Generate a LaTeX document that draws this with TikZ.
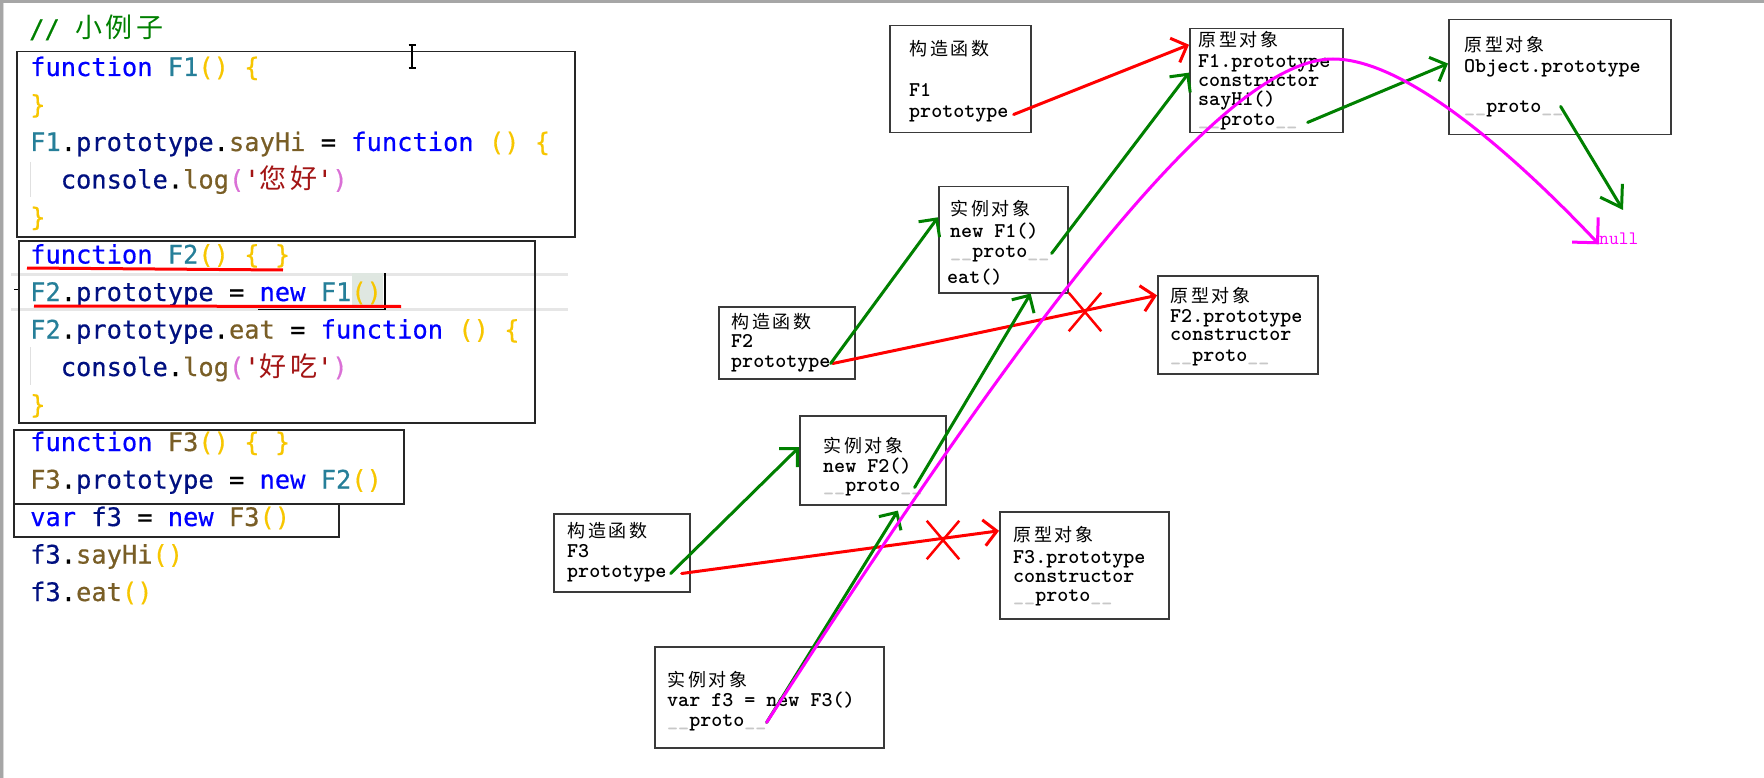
\documentclass[tikz,border=0pt]{standalone}
\usepackage{fontspec}
\usetikzlibrary{arrows.meta,shapes.misc}
\newfontfamily\codefont{DejaVu Sans Mono}[FakeBold=0.5]
\newfontfamily\cjkcode[LetterSpace=13]{Noto Sans CJK SC}
\newfontfamily\cjkbox[LetterSpace=16]{Noto Sans CJK SC}
\definecolor{ckw}{HTML}{0000FF}
\definecolor{ccl}{HTML}{267F99}
\definecolor{cfn}{HTML}{795E26}
\definecolor{cvr}{HTML}{001080}
\definecolor{cba}{HTML}{F7C600}
\definecolor{cbb}{HTML}{DA70D6}
\definecolor{cst}{HTML}{A31515}
\definecolor{ccm}{HTML}{008000}
\definecolor{boxgray}{HTML}{3A3A3A}
\definecolor{ugray}{HTML}{C8C8C8}
\definecolor{dgreen}{HTML}{008000}
\definecolor{hmag}{HTML}{FF00FF}
\definecolor{frame}{HTML}{A6A6A6}
\definecolor{curline}{HTML}{E6E6E6}
\definecolor{matchfill}{HTML}{DFE7E1}
\newcommand\ckwd[1]{\textcolor{ckw}{#1}}
\newcommand\ccls[1]{\textcolor{ccl}{#1}}
\newcommand\cfun[1]{\textcolor{cfn}{#1}}
\newcommand\cvar[1]{\textcolor{cvr}{#1}}
\newcommand\cbra[1]{\textcolor{cba}{#1}}
\newcommand\cbrb[1]{\textcolor{cbb}{#1}}
\newcommand\cstr[1]{\textcolor{cst}{#1}}
\newcommand\cjz[1]{{\cjkcode\fontsize{27}{27}\selectfont #1}}
\newcommand\pproto{\textcolor{ugray}{\_\_}proto\textcolor{ugray}{\_\_}}
\begin{document}
\begin{tikzpicture}[x=1pt,y=-1pt,
  dbox/.style={draw=boxgray, line width=1.5pt, anchor=north west, inner sep=0pt},
  code/.style={anchor=base west, inner sep=0pt, font=\codefont\fontsize{25.4}{25.4}\selectfont},
  bt/.style={anchor=base west, inner sep=0pt, font=\ttfamily\bfseries\fontsize{21}{21}\selectfont},
  ct/.style={anchor=base west, inner sep=0pt, font=\cjkbox\fontsize{18}{18}\selectfont},
  hand/.style={line width=3pt, line cap=round, line join=round},
  harrow/.style={hand, -{Straight Barb[length=13pt,width=26pt]}},
  redarr/.style={harrow, draw=red},
  grnarr/.style={harrow, draw=dgreen},
  xmark/.style={cross out, draw=red, line width=2.5pt, minimum width=30pt, minimum height=36pt, inner sep=0pt},
]
\useasboundingbox (0,0) rectangle (1764,778);
\fill[white] (0,0) rectangle (1764,778);
% window frame
\fill[frame] (0,0) rectangle (1764,3.5);
\fill[frame] (0,0) rectangle (2.5,778);
\fill[black!15] (2.5,3.5) rectangle (3.5,778);

% editor artifacts
\draw[curline, line width=3pt] (11,274) -- (568,274);
\draw[curline, line width=3pt] (11,309) -- (568,309);
\fill[matchfill] (352,273) rectangle (383,309);
\draw[black!12, line width=1pt] (30,162) -- (30,197);
\draw[black!12, line width=1pt] (30,347) -- (30,385);

% code blocks
\node[dbox, draw=black!85, minimum width=558pt, minimum height=185pt] (blk1) at (16,51) {};
\node[dbox, draw=black!85, minimum width=516pt, minimum height=182pt] (blk2) at (18,240) {};
\node[dbox, draw=black!85, minimum width=390pt, minimum height=74pt] (blk3) at (13,429) {};
\node[dbox, draw=black!85, minimum width=325pt, minimum height=33pt] (blk4) at (13,503) {};

\node[code] (cmt) at (29,38) {\textcolor{ccm}{// \cjz{小例子}}};
\node[code] (c0) at (30,76) {\ckwd{function} \ccls{F1}\cbra{()} \cbra{\{}};
\node[code] (c1) at (30,113.5) {\cbra{\}}};
\node[code] (c2) at (30,151) {\ccls{F1}.\cvar{prototype}.\cfun{sayHi} = \ckwd{function} \cbra{()} \cbra{\{}};
\node[code] (c3) at (60.6,188.5) {\cvar{console}.\cfun{log}\cbrb{(}\cstr{'\cjz{您好}'}\cbrb{)}};
\node[code] (c4) at (30,226) {\cbra{\}}};
\node[code] (c5) at (30,263.5) {\ckwd{function} \ccls{F2}\cbra{()} \cbra{\{ \}}};
\node[code] (c6) at (30,301) {\ccls{F2}.\cvar{prototype} = \ckwd{new} \ccls{F1}\cbra{()}};
\node[code] (c7) at (30,338.5) {\ccls{F2}.\cvar{prototype}.\cfun{eat} = \ckwd{function} \cbra{()} \cbra{\{}};
\node[code] (c8) at (60.6,376) {\cvar{console}.\cfun{log}\cbrb{(}\cstr{'\cjz{好吃}'}\cbrb{)}};
\node[code] (c9) at (30,413.5) {\cbra{\}}};
\node[code] (c10) at (30,451) {\ckwd{function} \cfun{F3}\cbra{()} \cbra{\{ \}}};
\node[code] (c11) at (30,488.5) {\cfun{F3}.\cvar{prototype} = \ckwd{new} \ccls{F2}\cbra{()}};
\node[code] (c12) at (30,526) {\ckwd{var} \cvar{f3} = \ckwd{new} \cfun{F3}\cbra{()}};
\node[code] (c13) at (30,563.5) {\cvar{f3}.\cfun{sayHi}\cbra{()}};
\node[code] (c14) at (30,601) {\cvar{f3}.\cfun{eat}\cbra{()}};

% cursor and underlines
\draw[black, line width=2pt] (385,273) -- (385,310);
\draw[black, line width=1.5pt] (258,309.5) -- (385,309.5);
\draw[red, line width=3pt] (27,268) -- (283,270);
\draw[red, line width=3pt] (34,306) -- (401,306.5);
\draw[black, line width=1pt] (14,289) -- (18,289);
% I-beam
\draw[black, line width=1.3pt] (412,46) -- (412,67);
\draw[black, line width=1.1pt] (408.5,45) -- (415.5,45) (408.5,68) -- (415.5,68);

% diagram boxes
\node[dbox, minimum width=141pt, minimum height=107pt] (f1ctor) at (889,25) {};
\node[dbox, minimum width=153pt, minimum height=104pt] (f1proto) at (1189,28) {};
\node[dbox, minimum width=222pt, minimum height=115pt] (objproto) at (1448,19) {};
\node[dbox, minimum width=129pt, minimum height=106pt] (newf1) at (938,186) {};
\node[dbox, minimum width=136pt, minimum height=72pt] (f2ctor) at (718,306) {};
\node[dbox, minimum width=160pt, minimum height=98pt] (f2proto) at (1157,275) {};
\node[dbox, minimum width=146pt, minimum height=89pt] (newf2) at (799,415) {};
\node[dbox, minimum width=136pt, minimum height=78pt] (f3ctor) at (553,513) {};
\node[dbox, minimum width=169pt, minimum height=107pt] (f3proto) at (999,511) {};
\node[dbox, minimum width=229pt, minimum height=101pt] (f3obj) at (654,646) {};

% box texts
\node[ct] (f1c1) at (909,56) {构造函数};
\node[bt] (f1c2) at (909,97) {F1};
\node[bt] (f1c3) at (909,118) {prototype};

\node[ct] (f1p1) at (1198,47) {原型对象};
\node[bt] (f1p2) at (1198,68) {F1.prototype};
\node[bt] (f1p3) at (1198,87) {constructor};
\node[bt] (f1p4) at (1198,106) {sayHi()};
\node[bt] (f1p5) at (1198,126) {\pproto};

\node[ct] (op1) at (1464,52) {原型对象};
\node[bt] (op2) at (1464,73) {Object.prototype};
\node[bt] (op3) at (1464,113) {\pproto};

\node[ct] (n1a) at (950,216) {实例对象};
\node[bt] (n1b) at (950,237) {new F1()};
\node[bt] (n1c) at (950,257) {\pproto};
\node[bt] (n1d) at (947,283) {eat()};

\node[ct] (f2c1) at (731,328) {构造函数};
\node[bt] (f2c2) at (731,347) {F2};
\node[bt] (f2c3) at (731,367) {prototype};

\node[ct] (f2p1) at (1170,302) {原型对象};
\node[bt] (f2p2) at (1170,322) {F2.prototype};
\node[bt] (f2p3) at (1170,340) {constructor};
\node[bt] (f2p4) at (1170,361) {\pproto};

\node[ct] (n2a) at (823,452) {实例对象};
\node[bt] (n2b) at (823,472) {new F2()};
\node[bt] (n2c) at (823,491) {\pproto};

\node[ct] (f3c1) at (567,537) {构造函数};
\node[bt] (f3c2) at (567,557) {F3};
\node[bt] (f3c3) at (567,577) {prototype};

\node[ct] (f3p1) at (1013,541) {原型对象};
\node[bt] (f3p2) at (1013,563) {F3.prototype};
\node[bt] (f3p3) at (1013,582) {constructor};
\node[bt] (f3p4) at (1013,601) {\pproto};

\node[ct] (f3o1) at (667,686) {实例对象};
\node[bt] (f3o2) at (667,706) {var f3 = new F3()};
\node[bt] (f3o3) at (667,726) {\pproto};

\node[anchor=base west, inner sep=0pt, text=hmag, font=\ttfamily\fontsize{19}{19}\selectfont] (null) at (1599,244) {null};
\coordinate (nulltip) at (1623,210);
\coordinate (peak) at (1333,59);

% red arrows
\draw[redarr] ([xshift=5pt]f1c3.east) -- (f1proto.155);
\draw[redarr] ([xshift=2pt]f2c3.east) -- (f2proto.160);
\draw[redarr] ([xshift=15pt]f3c3.east) -- (f3proto.158);
\node[xmark] (xa) at (1085,312) {};
\node[xmark] (xb) at (943,540) {};

% green arrows
\draw[grnarr] (f2c3.east) -- (newf1.161);
\draw[grnarr] ([xshift=2pt]n1c.east) -- (f1proto.174);
\draw[grnarr] ([xshift=10pt]f1p5.east) -- (objproto.173);
\draw[hand, draw=dgreen, -{Straight Barb[length=20pt,width=26pt]}] ([xshift=-3pt,yshift=3pt]op3.east) -- (nulltip);
\draw[grnarr] ([xshift=4pt]f3c3.east) -- (newf2.170);
\draw[grnarr, shorten >=6pt] (f3o3.east) -- (newf2.-58);
\draw[grnarr] ([xshift=-8pt]n2c.east) -- (newf1.-63);

% magenta chain
\draw[hand, draw=hmag, -{Straight Barb[length=18pt,width=36pt]}] (f3o3.east) .. controls (985,385) and (1210,59) .. (peak) .. controls (1400,59) and (1500,140) .. (null.south west);
\end{tikzpicture}
\end{document}
